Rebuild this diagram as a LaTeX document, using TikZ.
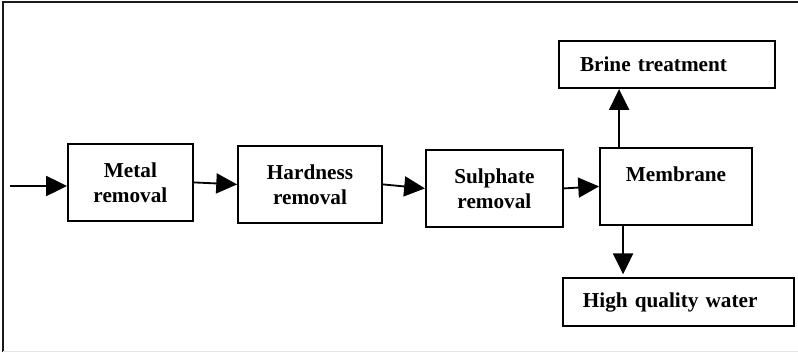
\documentclass[tikz,border=0pt]{standalone}
\usepackage{fontspec}
\setmainfont{Liberation Serif}
\usepackage{xcolor}
\usetikzlibrary{arrows.meta}
\definecolor{frame}{HTML}{1A1A1A}
\definecolor{faint}{HTML}{E6E6E6}
\tikzset{
  box/.style={draw=black, line width=1.3pt, inner sep=0pt, align=center,
    minimum height=1.925cm, font=\fontsize{15.1}{17.8}\selectfont\bfseries},
  outbox/.style={box, minimum height=1.19cm, align=left},
  flow/.style={draw=black, line width=1.3pt, -{Triangle[length=5.2mm,width=5mm]}},
  edge/.style={draw=frame, line width=1.4pt}
}
\begin{document}
\begin{tikzpicture}
  \useasboundingbox (0,0) rectangle (19.95,-8.8);
  % frame
  \draw[edge] (0.075,-8.8) -- (0.075,-0.05) -- (19.95,-0.05);
  \draw[faint, line width=0.6pt] (0.075,-8.78) -- (19.95,-8.78);

  % process chain
  \node[box, minimum width=3.125cm] (metal) at (3.26,-4.56) {Metal\\removal};
  \node[box, minimum width=3.6cm]   (hard)  at (7.75,-4.61) {Hardness\\removal};
  \node[box, minimum width=3.425cm] (sulph) at (12.36,-4.71) {Sulphate\\removal};
  \node[box, minimum width=3.8cm]   (memb)  at (16.9,-4.66) {Membrane\\\mbox{}};

  % outputs
  \node[outbox, text width=4.35cm, inner xsep=0.525cm] (brine) at (16.675,-1.61) {Brine treatment};
  \node[outbox, text width=4.775cm, inner xsep=0.5cm] (water) at (16.96,-7.55) {High quality water};

  \coordinate (in) at (0.25,-4.65);
  \draw[flow] (in) -- (in -| metal.west);
  \draw[flow] (metal.east) -- (hard.west);
  \draw[flow] (hard.east) -- (sulph.west);
  \draw[flow] (sulph.east) -- (memb.west);
  \draw[flow] ([xshift=0.5cm]memb.north west) -- ([xshift=0.5cm]memb.north west |- brine.south);
  \draw[flow] ([xshift=0.6cm]memb.south west) -- ([xshift=0.6cm,yshift=0.075cm]memb.south west |- water.north);
\end{tikzpicture}
\end{document}
